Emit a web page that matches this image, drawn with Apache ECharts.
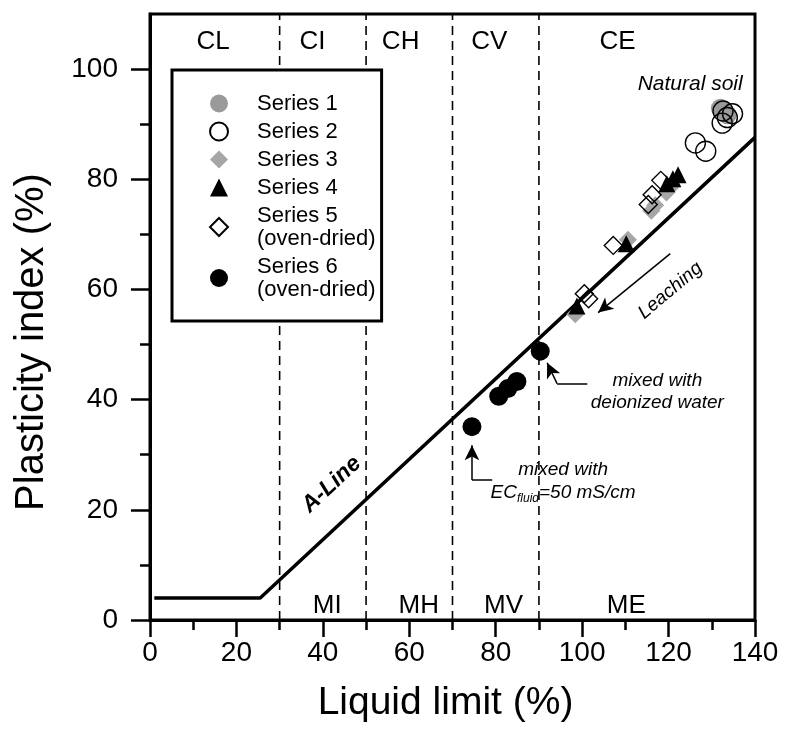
<!DOCTYPE html>
<html>
<head>
<meta charset="utf-8">
<script src="https://cdn.jsdelivr.net/npm/echarts@6/dist/echarts.min.js"></script>
<style>
  html, body { margin: 0; padding: 0; background: #fff; }
  #chart { width: 787px; height: 742px; }
</style>
</head>
<body>
<div id="chart"></div>
<script>
// Plasticity chart: liquid limit vs plasticity index, with A-line and zone boundaries

// Measured points [liquid limit, plasticity index]
const series1 = [[132.0, 92.9], [133.6, 91.7]];
const series2 = [[126.2, 86.6], [128.6, 85.1], [132.4, 90.2], [132.6, 92.4], [133.6, 91.2], [134.8, 91.9]];
const series3 = [[98.4, 55.5], [110.6, 69.0], [116.0, 74.3], [116.9, 75.3], [119.5, 77.6], [120.5, 78.6]];
const series4 = [[98.8, 57.0], [110.2, 68.3], [119.6, 79.2], [121.0, 80.1], [122.2, 80.8]];
const series5 = [[100.5, 59.2], [101.5, 58.3], [107.2, 68.0], [115.3, 75.4], [116.2, 77.2], [118.2, 79.8]];
const series6 = [[74.5, 35.1], [80.7, 40.6], [82.8, 42.0], [84.9, 43.3], [90.3, 48.8]];

const seriesNames = ['Series 1', 'Series 2', 'Series 3', 'Series 4', 'Series 5\n(oven-dried)', 'Series 6\n(oven-dried)'];

// A-line vertices
const aLine = [[1, 4], [25.5, 4], [140, 87.6]];

// Liquid-limit zone boundaries
const zoneBounds = [30, 50, 70, 90];

// Zone names: upper row (clays) and lower row (silts)
const zoneTop = [['CL', 14.6, 105], ['CI', 37.6, 105], ['CH', 58.0, 105], ['CV', 78.5, 105], ['CE', 108.2, 105]];
const zoneBottom = [['MI', 41.0, 2.6], ['MH', 62.2, 2.6], ['MV', 81.8, 2.6], ['ME', 110.2, 2.6]];

// Axis ticks
const xMajorTicks = [0, 20, 40, 60, 80, 100, 120, 140];
const yMajorTicks = [0, 20, 40, 60, 80, 100];
const yMinorTicks = [10, 30, 50, 70, 90];

// Annotation arrows (polylines, arrowhead at last point)
const leachingArrow = [[120.4, 66.5], [103.7, 55.8]];
const deionizedArrow = [[101.2, 42.9], [94.2, 42.9], [91.9, 46.7]];
const ecArrow = [[79.2, 25.4], [74.5, 25.4], [74.5, 31.7]];

const FONT = '"Liberation Sans", Arial, sans-serif';

function arrowLines(pts) {
  const out = [];
  for (let i = 0; i < pts.length - 1; i++) {
    const last = i === pts.length - 2;
    out.push([
      { coord: pts[i], symbol: 'none' },
      { coord: pts[i + 1], symbol: last ? 'arrow' : 'none' }
    ]);
  }
  return out;
}

const annoStyle = { fontFamily: FONT, fontStyle: 'italic', fontSize: 19, color: '#000' };

const annotations = [
  { value: [125.0, 97.3], label: Object.assign({}, annoStyle, { formatter: 'Natural soil', fontSize: 21 }) },
  { value: [120.4, 59.8], label: Object.assign({}, annoStyle, { formatter: 'Leaching', rotate: 40 }) },
  { value: [117.4, 41.5], label: Object.assign({}, annoStyle, { formatter: 'mixed with\ndeionized water', lineHeight: 22, align: 'center' }) },
  { value: [95.6, 25.2], label: Object.assign({}, annoStyle, {
      formatter: 'mixed with\nEC{sub|fluid}=50 mS/cm', lineHeight: 23, align: 'center',
      rich: { sub: { fontFamily: FONT, fontStyle: 'italic', fontSize: 12, color: '#000', verticalAlign: 'bottom', padding: [8, 0, 0, 0] } }
  }) },
  { value: [42.0, 24.6], label: Object.assign({}, annoStyle, { formatter: 'A-Line', fontWeight: 'bold', fontSize: 23, rotate: 43 }) }
];

function zoneItems(list) {
  return list.map(z => ({ value: [z[1], z[2]], name: z[0] }));
}

const chart = echarts.init(document.getElementById('chart'), null, { renderer: 'canvas' });

const boundarySeries = zoneBounds.map(b => ({
  type: 'line',
  data: [[b, 0], [b, 110]],
  symbol: 'none',
  silent: true,
  z: 1,
  lineStyle: { color: '#000', width: 1.6, type: [9, 6] }
}));

const option = {
  backgroundColor: '#fff',
  animation: false,
  grid: { left: 150, right: 32, top: 14, bottom: 122, show: true, borderColor: '#000', borderWidth: 3, backgroundColor: 'transparent' },
  legend: {
    data: seriesNames,
    orient: 'vertical',
    left: 172,
    top: 70,
    padding: [22, 6, 20, 37],
    itemGap: 5,
    itemWidth: 18,
    itemHeight: 18,
    borderColor: '#000',
    borderWidth: 3,
    backgroundColor: '#fff',
    selectedMode: false,
    z: 10,
    textStyle: { fontFamily: FONT, fontSize: 22, color: '#000', lineHeight: 23, padding: [0, 0, 0, 24] }
  },
  xAxis: {
    type: 'value',
    min: 0, max: 140, interval: 20,
    name: 'Liquid limit (%)',
    nameLocation: 'middle',
    nameGap: 64,
    nameTextStyle: { fontFamily: FONT, fontSize: 39, color: '#000', padding: [0, 14, 0, 0] },
    axisLine: { lineStyle: { color: '#000', width: 3 } },
    axisTick: { show: true, length: 17, lineStyle: { color: '#000', width: 2.5 } },
    minorTick: { show: true, splitNumber: 2, length: 10, lineStyle: { color: '#000', width: 2.5 } },
    axisLabel: { fontFamily: FONT, fontSize: 28, color: '#000', margin: 19, customValues: xMajorTicks },
    splitLine: { show: false }
  },
  yAxis: [{
    type: 'value',
    min: 0, max: 110,
    name: 'Plasticity index (%)',
    nameLocation: 'middle',
    nameGap: 98,
    nameTextStyle: { fontFamily: FONT, fontSize: 40, color: '#000', padding: [0, 50, 0, 0] },
    axisLine: { lineStyle: { color: '#000', width: 3 } },
    axisTick: { show: true, length: 19, customValues: yMajorTicks, lineStyle: { color: '#000', width: 2.5 } },
    axisLabel: { fontFamily: FONT, fontSize: 28, color: '#000', margin: 32, customValues: yMajorTicks },
    splitLine: { show: false }
  }, {
    type: 'value',
    min: 0, max: 110,
    position: 'left',
    axisLine: { show: false },
    axisTick: { show: true, length: 10, customValues: yMinorTicks, lineStyle: { color: '#000', width: 2.5 } },
    axisLabel: { show: false },
    splitLine: { show: false }
  }],
  series: boundarySeries.concat([
    {
      type: 'line',
      name: 'A-Line',
      data: aLine,
      symbol: 'none',
      silent: true,
      z: 2,
      lineStyle: { color: '#000', width: 3.5 },
      markLine: {
        silent: true,
        symbol: 'none',
        symbolSize: [11, 15],
        label: { show: false },
        lineStyle: { color: '#000', width: 1.5, type: 'solid' },
        data: arrowLines(leachingArrow).concat(arrowLines(deionizedArrow), arrowLines(ecArrow))
      }
    },
    {
      type: 'scatter', name: seriesNames[0], data: series1, z: 3,
      symbol: 'circle', symbolSize: 19,
      itemStyle: { color: '#9a9a9a', opacity: 1 }
    },
    {
      type: 'scatter', name: seriesNames[1], data: series2, z: 4,
      symbol: 'circle', symbolSize: 20,
      itemStyle: { color: 'rgba(255,255,255,0)', borderColor: '#000', borderWidth: 1.4, opacity: 1 }
    },
    {
      type: 'scatter', name: seriesNames[2], data: series3, z: 3,
      symbol: 'diamond', symbolSize: 18,
      itemStyle: { color: '#a6a6a6', opacity: 1 }
    },
    {
      type: 'scatter', name: seriesNames[3], data: series4, z: 5,
      symbol: 'triangle', symbolSize: 17,
      itemStyle: { color: '#000', opacity: 1 }
    },
    {
      type: 'scatter', name: seriesNames[4], data: series5, z: 4,
      symbol: 'diamond', symbolSize: 18,
      itemStyle: { color: 'rgba(255,255,255,0)', borderColor: '#000', borderWidth: 1.4, opacity: 1 }
    },
    {
      type: 'scatter', name: seriesNames[5], data: series6, z: 5,
      symbol: 'circle', symbolSize: 19,
      itemStyle: { color: '#000', opacity: 1 }
    },
    {
      type: 'scatter', name: 'zones', silent: true, z: 6,
      symbolSize: 0,
      itemStyle: { opacity: 1 },
      data: zoneItems(zoneTop).concat(zoneItems(zoneBottom)),
      label: { show: true, position: 'inside', formatter: p => p.name, fontFamily: FONT, fontSize: 26, color: '#000' }
    },
    {
      type: 'scatter', name: 'notes', silent: true, z: 6,
      symbolSize: 0,
      itemStyle: { opacity: 1 },
      data: annotations.map(a => ({ value: a.value, label: Object.assign({ show: true, position: 'inside' }, a.label) }))
    }
  ])
};

chart.setOption(option);
</script>
</body>
</html>
